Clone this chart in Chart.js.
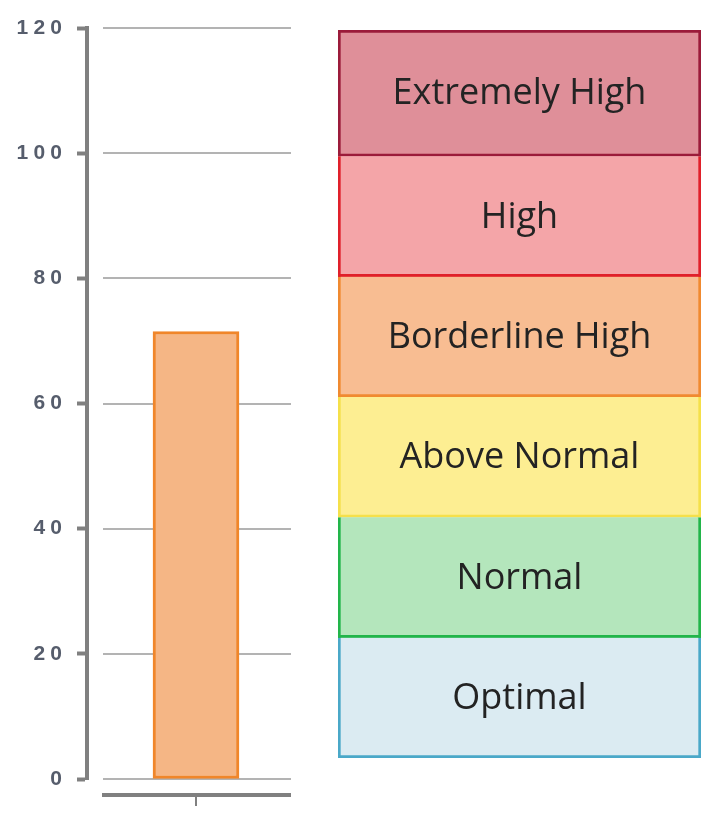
<!DOCTYPE html>
<html>
<head>
<meta charset="utf-8">
<script src="https://cdn.jsdelivr.net/npm/chart.js@4"></script>
<style>
  body { margin: 0; background: #fff; }
  #wrap { position: relative; width: 717px; height: 821px; }
  #levelChart { position: absolute; left: 0; top: 0; }
  #bandChart { position: absolute; left: 330px; top: 0; }
</style>
</head>
<body>
<div id="wrap">
  <canvas id="levelChart" width="320" height="821"></canvas>
  <canvas id="bandChart" width="387" height="821"></canvas>
</div>
<script>
// measured value
const categories = [""];
const levelValues = [71.5];
const yTicksMax = 120;
const yStep = 20;

// reference bands, bottom to top
const bandLabels = ["Optimal", "Normal", "Above Normal", "Borderline High", "High", "Extremely High"];
const bandSizes = [20, 20, 20, 20, 20, 21];
const bandFill = ["#dbebf2", "#b4e6bc", "#fdee92", "#f8bd92", "#f4a5a8", "#df8f99"];
const bandBorder = ["#4aa8c8", "#22b54a", "#f5e04a", "#f08a30", "#e0202a", "#9b1b3a"];

const axisGray = "#808080";

// gridlines start a bit right of the axis, and the x axis sits below zero
const levelDecor = {
  id: "levelDecor",
  beforeDatasetsDraw(chart) {
    const { ctx, scales } = chart;
    const y = scales.y;
    ctx.save();
    ctx.strokeStyle = "#b3b3b3";
    ctx.lineWidth = 2;
    y.ticks.forEach((t) => {
      const py = Math.round(y.getPixelForValue(t.value));
      ctx.beginPath();
      ctx.moveTo(103, py);
      ctx.lineTo(291, py);
      ctx.stroke();
    });
    ctx.restore();
  },
  afterDraw(chart) {
    const { ctx, scales } = chart;
    const base = scales.y.getPixelForValue(0) + 16;
    const cx = Math.round(scales.x.getPixelForValue(0));
    ctx.save();
    ctx.strokeStyle = axisGray;
    ctx.lineWidth = 4;
    ctx.beginPath();
    ctx.moveTo(102, base);
    ctx.lineTo(291, base);
    ctx.stroke();
    ctx.lineWidth = 2;
    ctx.beginPath();
    ctx.moveTo(cx, base);
    ctx.lineTo(cx, base + 11);
    ctx.stroke();
    ctx.restore();
  },
};

new Chart(document.getElementById("levelChart"), {
  type: "bar",
  data: {
    labels: categories,
    datasets: [
      {
        data: levelValues,
        backgroundColor: "#f5b685",
        borderColor: "#f0862a",
        borderWidth: 3,
        borderSkipped: false,
        barThickness: 86,
      },
    ],
  },
  options: {
    responsive: false,
    animation: false,
    devicePixelRatio: 1,
    layout: { padding: { left: 0, top: 28, right: 15, bottom: 42 } },
    plugins: { legend: { display: false }, tooltip: { enabled: false } },
    scales: {
      x: { display: false },
      y: {
        min: 0,
        max: yTicksMax,
        afterFit: (scale) => {
          scale.width = 87;
        },
        ticks: {
          stepSize: yStep,
          padding: 15,
          color: "#565d6c",
          font: { family: "'Liberation Sans', sans-serif", size: 21, weight: "bold" },
          callback: (v) => String(v).split("").join("\u2005"),
        },
        grid: {
          drawOnChartArea: false,
          drawTicks: true,
          tickLength: 10,
          tickWidth: 4,
          tickColor: axisGray,
        },
        border: { display: true, color: axisGray, width: 4 },
      },
    },
  },
  plugins: [levelDecor],
});

const bandText = {
  id: "bandText",
  afterDatasetsDraw(chart) {
    const { ctx } = chart;
    ctx.save();
    ctx.fillStyle = "#232323";
    ctx.font = "36px 'Open Sans', sans-serif";
    ctx.textAlign = "center";
    ctx.textBaseline = "middle";
    chart.data.datasets.forEach((ds, i) => {
      const el = chart.getDatasetMeta(i).data[0];
      ctx.fillText(ds.label, el.x, (el.y + el.base) / 2 + 1);
    });
    ctx.restore();
  },
};

new Chart(document.getElementById("bandChart"), {
  type: "bar",
  data: {
    labels: ["range"],
    datasets: bandLabels.map((label, i) => ({
      label: label,
      data: [bandSizes[i]],
      backgroundColor: bandFill[i],
      borderColor: bandBorder[i],
      borderWidth: 3,
      borderSkipped: i === bandLabels.length - 1 ? false : "end",
      barPercentage: 1,
      categoryPercentage: 1,
    })),
  },
  options: {
    responsive: false,
    animation: false,
    devicePixelRatio: 1,
    layout: { padding: { left: 8, top: 30, right: 16, bottom: 63 } },
    plugins: { legend: { display: false }, tooltip: { enabled: false } },
    scales: {
      x: { display: false, stacked: true },
      y: {
        display: false,
        stacked: true,
        min: 0,
        max: bandSizes.reduce((a, b) => a + b, 0),
      },
    },
  },
  plugins: [bandText],
});
</script>
</body>
</html>
